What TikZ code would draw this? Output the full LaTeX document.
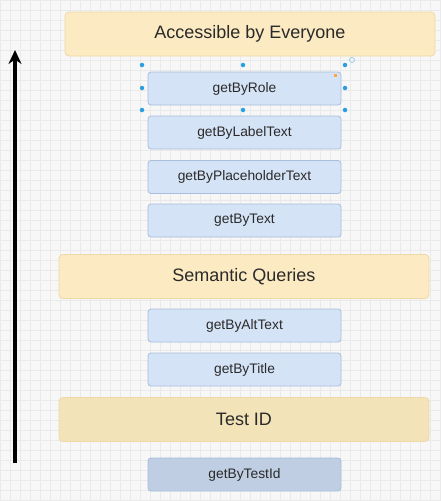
\documentclass[tikz,border=0pt]{standalone}
\usepackage{fontspec}
\setmainfont{Liberation Sans}
\usetikzlibrary{arrows.meta}
\definecolor{bgc}{HTML}{F7F7F7}
\definecolor{gridc}{HTML}{EAEAEA}
\definecolor{yfill}{HTML}{FCEBC2}
\definecolor{ydraw}{HTML}{EDD9A6}
\definecolor{tfill}{HTML}{F3E3B8}
\definecolor{bfill}{HTML}{D5E3F6}
\definecolor{bdraw}{HTML}{A8BEDC}
\definecolor{dfill}{HTML}{BFCEE2}
\definecolor{txt}{HTML}{2A2A2A}
\definecolor{handle}{HTML}{2A9FDF}
\tikzset{
  cat/.style={draw=ydraw, fill=yfill, rounded corners=4pt, line width=0.8pt, text=txt, font=\fontsize{18}{20}\selectfont, minimum height=44pt, inner sep=0pt},
  query/.style={draw=bdraw, fill=bfill, rounded corners=3pt, line width=0.8pt, text=txt, font=\fontsize{13.8}{16}\selectfont, minimum width=193pt, minimum height=33pt, inner sep=0pt},
  hdl/.style={fill=handle, draw=none, circle, inner sep=0pt, minimum size=4.5pt}
}
\begin{document}
\begin{tikzpicture}[x=1pt,y=-1pt]
\useasboundingbox (0,0) rectangle (441,501);
\fill[bgc] (0,0) rectangle (441,501);
\draw[gridc, line width=0.4pt, step=10pt] (0,0) grid (441,501);
% categories
\node[cat, minimum width=370pt] (acc) at (250,34) {Accessible by Everyone};
\node[cat, minimum width=370pt] (sem) at (244,276.5) {Semantic Queries};
\node[cat, fill=tfill, minimum width=370pt] (tid) at (244,419.5) {Test ID};
% queries
\node[query] (role) at (244.5,88.5) {getByRole};
\node[query] (label) at (244.5,132.5) {getByLabelText};
\node[query] (place) at (244.5,177) {getByPlaceholderText};
\node[query] (text) at (244.5,220.5) {getByText};
\node[query] (alt) at (244.5,325.5) {getByAltText};
\node[query] (title) at (244.5,369.5) {getByTitle};
\node[query, fill=dfill] (testid) at (244.5,474.5) {getByTestId};
% selection handles
\foreach \n/\x/\y in {h1/142/65,h2/243/65,h3/345/65,h4/142/88,h5/345/88,h6/142/110,h7/243/110,h8/345/110}
  \node[hdl] (\n) at (\x,\y) {};
\node[circle, draw=handle!60, line width=0.6pt, inner sep=0pt, minimum size=5pt] (rot) at (352,60) {};
\node[fill=orange!70, inner sep=0pt, minimum size=3pt] (corner) at (335,75) {};
% arrow
\coordinate (abot) at (15,463);
\coordinate (atop) at (15,50);
\draw[line width=3.5pt, -{Stealth[length=14pt,width=13pt]}] (abot) -- (atop);
\end{tikzpicture}
\end{document}
